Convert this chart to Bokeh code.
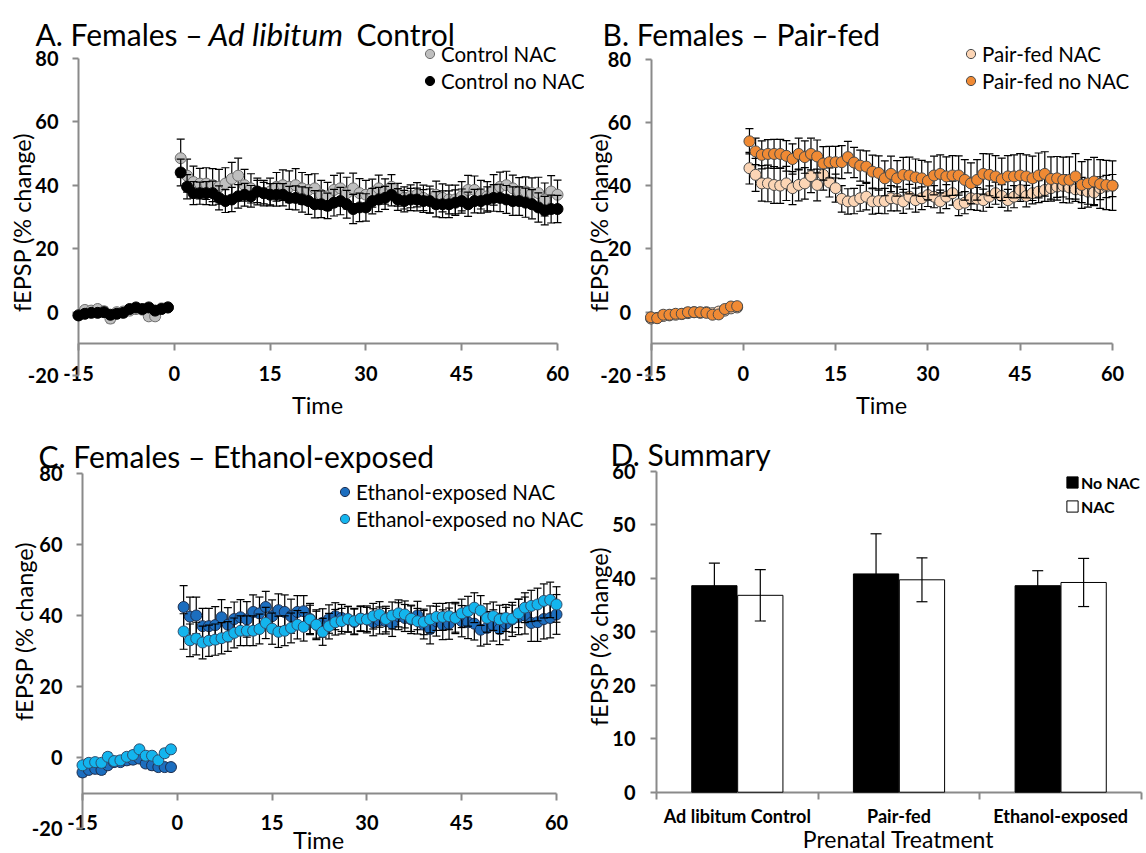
import math
from bokeh.plotting import figure
from bokeh.models import (Range1d, FixedTicker, Label, ColumnDataSource,
                          Legend, LegendItem)
from bokeh.layouts import gridplot
from bokeh.embed import file_html
from bokeh.resources import INLINE

FONT = "Lato"
GRAY = "#8A8A8A"

# ---------------- data ----------------
base_t = [-15, -14, -13, -12, -11, -10, -9, -8, -7, -6, -5, -4, -3, -2, -1]
post_t = list(range(1, 61))

# A. Ad libitum control
ctrl_nac_base = [-1.0, 0.7, 0.5, 1.0, 0.3, -2.0, 0.0, 0.2, 0.5, 1.0, 0.8, -1.3, -1.3, 1.2, 1.5]
ctrl_nac_post = [48.5, 43.0, 41.0, 40.5, 40.5, 40.0, 39.5, 40.5, 42.0, 43.0,
                 40.0, 39.0, 38.0, 37.5, 38.0, 39.5, 40.0, 39.5, 40.0, 39.0,
                 38.5, 39.0, 37.0, 36.5, 38.5, 39.0, 37.5, 39.0, 37.5, 37.0,
                 37.5, 39.0, 38.0, 39.5, 37.0, 36.0, 36.5, 37.0, 36.0, 35.5,
                 37.0, 36.0, 35.5, 35.5, 36.5, 38.5, 38.5, 37.0, 36.5, 38.5,
                 39.5, 40.0, 39.0, 38.0, 38.0, 37.5, 37.5, 35.5, 38.0, 37.0]
ctrl_nonac_base = [-1.0, -0.5, -0.2, -0.2, 0.0, -0.8, -0.5, -0.2, 1.0, 1.5, 1.0, 1.5, 0.5, 1.0, 1.5]
ctrl_nonac_post = [44.0, 39.5, 37.5, 37.5, 37.5, 37.5, 36.0, 35.0, 35.5, 36.5,
                   37.0, 36.5, 38.0, 37.5, 37.0, 37.0, 37.0, 36.0, 36.0, 35.5,
                   35.0, 34.0, 34.0, 33.5, 34.5, 35.0, 34.0, 32.5, 33.0, 33.0,
                   35.0, 35.5, 36.0, 37.0, 35.5, 35.0, 35.5, 35.5, 35.0, 35.0,
                   34.0, 34.0, 34.0, 34.5, 35.0, 34.0, 35.0, 35.0, 35.5, 36.0,
                   36.0, 35.5, 35.0, 35.0, 34.5, 34.0, 33.0, 32.0, 32.5, 32.5]
ctrl_nac_sem = [1.2, 1.0, 1.1, 1.0, 1.2, 1.3, 1.0, 1.1, 1.2, 1.0, 1.1, 1.2, 1.3, 1.0, 1.2,
                6.0, 5.2, 5.0, 4.8, 5.0, 5.2, 5.5, 5.0, 5.2, 5.5, 5.0, 4.6, 4.2, 4.0, 4.2,
                4.5, 4.8, 5.0, 5.2, 5.0, 4.8, 4.6, 4.5, 4.4, 4.6, 4.8, 5.0, 4.8, 4.6, 4.5,
                4.4, 4.2, 4.0, 3.8, 3.6, 3.5, 3.6, 3.8, 4.0, 4.2, 4.3, 4.4, 4.5, 4.5, 4.6,
                4.6, 4.4, 4.5, 4.6, 4.8, 4.6, 4.4, 4.2, 4.4, 4.6, 4.8, 5.0, 5.2, 5.0, 4.6]
ctrl_nonac_sem = [1.0, 1.1, 1.0, 1.2, 1.0, 1.1, 1.0, 1.2, 1.1, 1.0, 1.2, 1.1, 1.0, 1.1, 1.2,
                  4.2, 3.8, 3.6, 3.5, 3.6, 3.8, 3.8, 3.6, 3.8, 3.7, 3.6, 3.4, 3.5, 3.4, 3.5,
                  3.6, 3.5, 3.6, 3.8, 4.0, 4.2, 4.3, 4.2, 4.0, 4.2, 4.3, 4.4, 4.6, 4.5, 4.3,
                  4.0, 3.8, 3.6, 3.5, 3.4, 3.4, 3.5, 3.6, 3.6, 3.8, 4.0, 4.2, 4.2, 4.0, 3.8,
                  3.8, 3.7, 3.8, 4.0, 4.2, 4.3, 4.4, 4.5, 4.5, 4.6, 4.6, 4.6, 4.5, 4.4, 4.3]

# B. Pair-fed
pf_nac_base = [-2.0, -1.8, -1.2, -1.0, -0.8, -0.6, -0.3, 0.0, -0.2, 0.0, -0.3, 0.2, 0.5, 1.2, 1.5]
pf_nac_post = [45.5, 43.4, 40.7, 40.7, 40.2, 40.0, 40.7, 39.2, 40.2, 40.7,
               43.0, 40.2, 43.4, 41.0, 39.2, 35.8, 35.0, 35.1, 36.0, 36.5,
               35.0, 35.1, 35.1, 36.0, 35.8, 35.0, 36.5, 35.4, 36.0, 37.0,
               36.5, 35.0, 36.5, 37.6, 34.1, 34.6, 36.0, 35.8, 35.4, 36.5,
               37.6, 36.7, 35.4, 36.5, 38.6, 36.7, 37.6, 38.1, 38.6, 39.2,
               39.7, 39.9, 39.4, 38.8, 38.6, 38.1, 37.8, 39.2, 39.7, 40.0]
pf_nonac_base = [-1.6, -1.9, -0.8, -0.8, -0.5, -0.5, 0.0, 0.0, 0.0, -0.2, -0.8, -0.7, 1.0, 1.8, 1.9]
pf_nonac_post = [54.0, 50.8, 49.7, 50.0, 50.0, 50.0, 49.4, 48.4, 50.0, 49.0,
                 50.0, 49.2, 47.0, 47.4, 47.4, 47.4, 49.0, 47.3, 46.3, 46.0,
                 44.4, 44.0, 42.3, 43.7, 42.3, 43.4, 43.2, 42.6, 42.3, 41.5,
                 43.2, 43.7, 42.9, 43.2, 43.2, 41.8, 40.7, 41.8, 43.7, 43.4,
                 42.9, 42.0, 42.9, 42.9, 43.2, 42.9, 42.3, 43.2, 43.7, 42.1,
                 42.3, 41.8, 41.8, 42.9, 40.2, 40.7, 41.3, 40.5, 40.2, 40.0]
pf_nac_sem = [1.0, 1.1, 1.0, 1.2, 1.0, 1.1, 1.0, 1.0, 1.1, 1.2, 1.0, 1.1, 1.0, 1.2, 1.1,
              5.0, 5.2, 5.6, 5.8, 5.8, 5.6, 5.4, 5.2, 5.0, 5.0, 5.2, 5.0, 4.8, 4.6, 4.4,
              4.2, 4.0, 4.0, 4.1, 4.2, 4.0, 3.9, 4.0, 4.0, 3.8, 3.8, 3.9, 3.8, 3.6, 3.6,
              3.5, 3.6, 3.8, 3.8, 3.6, 3.5, 3.6, 3.6, 3.5, 3.4, 3.5, 3.6, 3.4, 3.5, 3.6,
              3.4, 3.4, 3.5, 3.6, 3.5, 3.4, 3.5, 3.6, 3.8, 4.0, 4.0, 3.8, 3.6, 3.5, 3.5]
pf_nonac_sem = [1.1, 1.0, 1.2, 1.0, 1.1, 1.0, 1.2, 1.1, 1.0, 1.0, 1.1, 1.2, 1.0, 1.1, 1.0,
                4.0, 4.2, 4.4, 4.5, 4.6, 4.6, 4.8, 4.8, 5.0, 5.1, 5.0, 5.2, 5.3, 5.0, 5.0,
                5.2, 5.0, 4.8, 4.9, 5.0, 5.2, 5.4, 5.5, 5.6, 5.6, 5.5, 5.8, 5.8, 5.7, 6.0,
                6.1, 6.0, 6.2, 6.3, 6.2, 6.4, 6.5, 6.4, 6.4, 6.6, 6.6, 6.7, 6.6, 6.8, 6.9,
                6.8, 7.0, 7.1, 7.0, 7.0, 6.9, 7.2, 7.3, 7.2, 7.4, 7.5, 7.6, 7.7, 7.8, 7.8]

# C. Ethanol-exposed
eth_nac_base = [-4.2, -3.5, -3.2, -3.5, -2.2, -1.3, -1.3, -0.8, -0.6, -0.3, -1.7, -2.2, -2.7, -2.7, -2.7]
eth_nac_post = [42.4, 39.7, 40.0, 37.0, 37.0, 37.3, 39.5, 37.4, 39.0, 39.5,
                38.9, 41.0, 40.6, 42.4, 39.8, 41.5, 41.0, 39.8, 41.0, 41.2,
                39.0, 37.4, 37.9, 39.0, 39.8, 39.3, 38.9, 38.2, 39.1, 38.9,
                38.1, 38.6, 38.4, 37.7, 39.8, 39.3, 38.9, 40.0, 37.4, 36.2,
                38.4, 37.4, 37.7, 39.3, 38.4, 38.1, 37.7, 36.0, 36.5, 37.2,
                36.2, 37.7, 38.9, 39.6, 40.0, 37.9, 38.1, 39.0, 39.3, 40.3]
eth_nonac_base = [-2.2, -1.5, -1.3, -1.5, 0.2, -1.0, -0.8, 0.2, 0.7, 2.3, 0.5, 0.5, -0.8, 1.2, 2.3]
eth_nonac_post = [35.5, 33.0, 33.5, 32.4, 32.9, 33.2, 33.6, 34.1, 35.1, 35.7,
                  35.7, 35.7, 36.2, 37.9, 36.3, 35.4, 35.7, 36.5, 37.4, 36.8,
                  38.9, 37.4, 35.4, 37.0, 38.1, 38.4, 39.0, 38.4, 39.1, 38.9,
                  39.8, 40.3, 39.0, 40.0, 40.6, 40.3, 39.1, 38.4, 38.2, 38.9,
                  39.6, 39.6, 39.8, 39.3, 40.6, 41.2, 42.2, 41.4, 39.3, 39.8,
                  38.9, 39.3, 39.1, 40.6, 42.2, 42.7, 43.1, 44.1, 44.4, 43.1]
eth_nac_sem = [1.2, 1.0, 1.1, 1.2, 1.0, 1.1, 1.0, 1.2, 1.1, 1.0, 1.1, 1.2, 1.0, 1.1, 1.0,
               6.0, 5.5, 5.2, 5.0, 5.0, 5.2, 5.0, 4.8, 4.8, 5.0, 5.0, 4.8, 4.6, 4.4, 4.6,
               4.6, 4.8, 4.8, 4.6, 4.4, 4.4, 4.2, 4.0, 4.0, 3.8, 3.8, 3.6, 3.6, 3.6, 3.8,
               3.8, 3.8, 3.6, 3.6, 3.8, 3.8, 4.0, 4.0, 4.0, 4.2, 4.2, 4.2, 4.4, 4.4, 4.4,
               4.6, 4.6, 4.6, 4.6, 4.4, 4.4, 4.6, 4.8, 5.0, 5.2, 5.2, 5.4, 5.6, 5.6, 5.6]
eth_nonac_sem = [1.0, 1.1, 1.0, 1.2, 1.1, 1.0, 1.2, 1.0, 1.1, 1.0, 1.2, 1.1, 1.0, 1.1, 1.0,
                 5.0, 4.6, 4.6, 4.6, 4.4, 4.4, 4.4, 4.2, 4.2, 4.2, 4.2, 4.2, 4.2, 4.4, 4.4,
                 4.4, 4.2, 4.2, 4.0, 4.0, 4.0, 3.8, 3.8, 3.6, 3.6, 3.6, 3.6, 3.6, 3.4, 3.4,
                 3.6, 3.6, 3.6, 3.8, 3.8, 3.8, 3.6, 3.6, 3.6, 3.8, 3.8, 3.8, 3.8, 4.0, 4.0,
                 4.2, 4.2, 4.2, 4.0, 4.0, 4.0, 3.8, 3.8, 4.0, 4.2, 4.4, 4.6, 4.8, 5.0, 5.0]

# D. Summary
categories = ["Ad libitum Control", "Pair-fed", "Ethanol-exposed"]
sum_nonac_mean = [38.6, 40.8, 38.6]
sum_nonac_sem = [4.2, 7.5, 2.8]
sum_nac_mean = [36.8, 39.7, 39.2]
sum_nac_sem = [4.8, 4.1, 4.5]

x_ticks = [-15, 0, 15, 30, 45, 60]
y_ticks = [-20, 0, 20, 40, 60, 80]
d_ticks = [0, 10, 20, 30, 40, 50, 60]

TITLE_PX = 30
TICK_PX = 20
AXTITLE_PX = 23.5
LEG_PX = 20.5

LEFT_W = 584
RIGHT_W = 1146 - LEFT_W


# ---------------- helpers ----------------
def add_label(p, x, y, text, size, style="normal", align="left",
              baseline="alphabetic", angle=0.0):
    p.add_layout(Label(x=x, y=y, text=text, text_font=FONT,
                       text_font_size=f"{size}px", text_font_style=style,
                       text_align=align, text_baseline=baseline, angle=angle,
                       text_color="black"))


def make_fig(W, H, xr, yr):
    p = figure(width=W, height=H, x_range=Range1d(*xr), y_range=Range1d(*yr),
               min_border_left=0, min_border_right=0, min_border_top=0,
               min_border_bottom=0, toolbar_location=None,
               output_backend="svg")
    p.xgrid.visible = False
    p.ygrid.visible = False
    p.outline_line_color = None
    p.background_fill_color = "white"
    p.border_fill_color = "white"
    return p


def style_axis(ax, tick_out, standoff, size):
    ax.axis_line_color = GRAY
    ax.axis_line_width = 2
    ax.major_tick_line_color = GRAY
    ax.major_tick_line_width = 2
    ax.major_tick_out = tick_out
    ax.major_tick_in = 0
    ax.minor_tick_line_color = None
    ax.major_label_standoff = standoff
    ax.major_label_text_font = FONT
    ax.major_label_text_font_style = "bold"
    ax.major_label_text_font_size = f"{size}px"
    ax.major_label_text_color = "black"
    ax.level = "underlay"


def timecourse(cfg, series, title_parts, legend_loc):
    W, H = cfg["W"], cfg["H"]
    ax0, pxx = cfg["ax_x"], cfg["px_x"]
    ym20, pxy = cfg["y_m20"], cfg["px_y"]
    xr = (-15 - ax0 / pxx, -15 + (W - ax0) / pxx)
    yr = (-20 - (H - ym20) / pxy, -20 + ym20 / pxy)
    p = make_fig(W, H, xr, yr)

    def tx(X):
        return -15 + (X - ax0) / pxx

    def ty(Y):
        return -20 + (ym20 - Y) / pxy

    ya = p.yaxis[0]
    ya.fixed_location = x_ticks[0]
    ya.bounds = (y_ticks[0], y_ticks[-1])
    ya.ticker = FixedTicker(ticks=y_ticks)
    ya.major_label_overrides = {t: str(t) for t in y_ticks}
    style_axis(ya, 6, 14, TICK_PX)

    xa = p.xaxis[0]
    xa.fixed_location = -10
    xa.bounds = (x_ticks[0], x_ticks[-1])
    xa.ticker = FixedTicker(ticks=x_ticks)
    xa.major_label_overrides = {t: str(t) for t in x_ticks}
    style_axis(xa, 7, cfg["xstand"], TICK_PX)

    items = []
    cap = 8
    xs = base_t + post_t
    for name, ys, sems, fill, line in series:
        src = ColumnDataSource(dict(x=xs, y=ys,
                                    up=[a + b for a, b in zip(ys, sems)],
                                    lo=[a - b for a, b in zip(ys, sems)]))
        p.segment(x0="x", y0="lo", x1="x", y1="up", source=src,
                  line_color="black", line_width=1.2)
        p.scatter(x="x", y="up", marker="dash", size=cap, source=src,
                  line_color="black", line_width=1.2)
        p.scatter(x="x", y="lo", marker="dash", size=cap, source=src,
                  line_color="black", line_width=1.2)
        r = p.scatter(x="x", y="y", size=11, source=src, fill_color=fill,
                      line_color=line, line_width=1)
        items.append(LegendItem(label=name, renderers=[r]))

    leg = Legend(items=items, location=legend_loc, orientation="vertical",
                 glyph_width=23, glyph_height=25, label_height=25, spacing=2,
                 padding=0, margin=0, label_standoff=0,
                 border_line_color=None, background_fill_alpha=0,
                 label_text_font=FONT, label_text_font_size=f"{LEG_PX}px",
                 label_text_color="black")
    p.add_layout(leg)

    for txt, X, style, size in title_parts:
        add_label(p, tx(X), ty(cfg["title_y"]), txt, size, style=style)
    yl = cfg["ylab"]
    add_label(p, tx(yl[0]), ty(yl[1]), "fEPSP (% change)", AXTITLE_PX,
              align="center", baseline="middle", angle=math.pi / 2)
    tl = cfg["tlab"]
    add_label(p, tx(tl[0]), ty(tl[1]), "Time", AXTITLE_PX, align="center",
              baseline="middle")
    return p


# ---------------- panels ----------------
cfgA = dict(W=LEFT_W, H=420, ax_x=78, px_x=6.387, y_m20=375.2, px_y=3.175,
            xstand=15, title_y=33, ylab=(21, 222), tlab=(317, 404))
pA = timecourse(cfgA,
                [("Control NAC", ctrl_nac_base + ctrl_nac_post, ctrl_nac_sem,
                  "#BFBFBF", "#6E6E6E"),
                 ("Control no NAC", ctrl_nonac_base + ctrl_nonac_post,
                  ctrl_nonac_sem, "#000000", "#000000")],
                [("A. Females \u2013 ", 35, "normal", TITLE_PX),
                 ("Ad libitum", 208, "italic", 31.5),
                 ("Control", 356, "normal", TITLE_PX)],
                (418, 327))

cfgB = dict(W=RIGHT_W, H=420, ax_x=650.5 - LEFT_W, px_x=6.153, y_m20=375,
            px_y=3.165, xstand=15, title_y=33, ylab=(14, 222),
            tlab=(881 - LEFT_W, 404))
pB = timecourse(cfgB,
                [("Pair-fed NAC", pf_nac_base + pf_nac_post, pf_nac_sem,
                  "#FCD5B5", "#4A4A4A"),
                 ("Pair-fed no NAC", pf_nonac_base + pf_nonac_post,
                  pf_nonac_sem, "#F08A34", "#4A4A4A")],
                [("B. Females \u2013 Pair-fed", 602 - LEFT_W, "normal", TITLE_PX)],
                (959 - LEFT_W, 327))

cfgC = dict(W=LEFT_W, H=433, ax_x=82, px_x=6.32, y_m20=408, px_y=3.55,
            xstand=15, title_y=35, ylab=(23, 211), tlab=(318, 419))
pC = timecourse(cfgC,
                [("Ethanol-exposed NAC", eth_nac_base + eth_nac_post,
                  eth_nac_sem, "#1C6EBF", "#1F2F4F"),
                 ("Ethanol-exposed no NAC", eth_nonac_base + eth_nonac_post,
                  eth_nonac_sem, "#13B5EE", "#2F4F6F")],
                [("C. Females \u2013 Ethanol-exposed", 38, "normal", TITLE_PX)],
                (333, 322))

# D summary
DW, DH = RIGHT_W, 433
D_AX, D_PXX = 656 - LEFT_W, 161.67
D_Y0, D_PXY = 371.7, 5.35
pD = make_fig(DW, DH, (-D_AX / D_PXX, (DW - D_AX) / D_PXX),
              (-(DH - D_Y0) / D_PXY, D_Y0 / D_PXY))


def dx(X):
    # X: absolute page x
    return (X - LEFT_W - D_AX) / D_PXX


def dy(Y):
    # Y: y inside panel D
    return (D_Y0 - Y) / D_PXY


idx = list(range(len(categories)))
x_nonac = [i + 0.5 - 0.142 for i in idx]
x_nac = [i + 0.5 + 0.142 for i in idx]
bar_w = 0.28

r_non = pD.vbar(x=x_nonac, top=sum_nonac_mean, width=bar_w, bottom=0,
                fill_color="black", line_color="black", line_width=1)
r_nac = pD.vbar(x=x_nac, top=sum_nac_mean, width=bar_w, bottom=0,
                fill_color="white", line_color="black", line_width=1)
for xs_, m, s in ((x_nonac, sum_nonac_mean, sum_nonac_sem),
                  (x_nac, sum_nac_mean, sum_nac_sem)):
    up = [a + b for a, b in zip(m, s)]
    lo = [a - b for a, b in zip(m, s)]
    pD.segment(x0=xs_, y0=lo, x1=xs_, y1=up, line_color="black", line_width=1.2)
    pD.scatter(x=xs_, y=up, marker="dash", size=11, line_color="black", line_width=1.2)
    pD.scatter(x=xs_, y=lo, marker="dash", size=11, line_color="black", line_width=1.2)

ya = pD.yaxis[0]
ya.fixed_location = 0
ya.bounds = (d_ticks[0], d_ticks[-1])
ya.ticker = FixedTicker(ticks=d_ticks)
style_axis(ya, 6, 15, TICK_PX)

xa = pD.xaxis[0]
xa.fixed_location = 0
xa.bounds = (0, len(categories))
xa.ticker = FixedTicker(ticks=[i + 0.5 for i in idx],
                        minor_ticks=list(range(len(categories) + 1)))
xa.major_label_overrides = {i + 0.5: c for i, c in zip(idx, categories)}
style_axis(xa, 0, 6, 18)
xa.major_tick_line_color = None
xa.minor_tick_line_color = GRAY
xa.minor_tick_line_width = 2
xa.minor_tick_out = 7
xa.minor_tick_in = 0

legD = Legend(items=[LegendItem(label="No NAC", renderers=[r_non]),
                     LegendItem(label="NAC", renderers=[r_nac])],
              location=(1065 - LEFT_W, 337), orientation="vertical",
              glyph_width=14, glyph_height=14, label_height=20, spacing=4,
              padding=0, margin=0, label_standoff=2, border_line_color=None,
              background_fill_alpha=0, label_text_font=FONT,
              label_text_font_size="16px", label_text_font_style="bold",
              label_text_color="black")
pD.add_layout(legD)

add_label(pD, dx(610), dy(33), "D. Summary", TITLE_PX)
add_label(pD, dx(LEFT_W + 14), dy(216), "fEPSP (% change)", AXTITLE_PX,
          align="center", baseline="middle", angle=math.pi / 2)
add_label(pD, dx(898), dy(418.5), "Prenatal Treatment", 23,
          align="center", baseline="middle")

grid = gridplot([[pA, pB], [pC, pD]], toolbar_location=None)
open("out.html", "w").write(file_html(grid, INLINE))
